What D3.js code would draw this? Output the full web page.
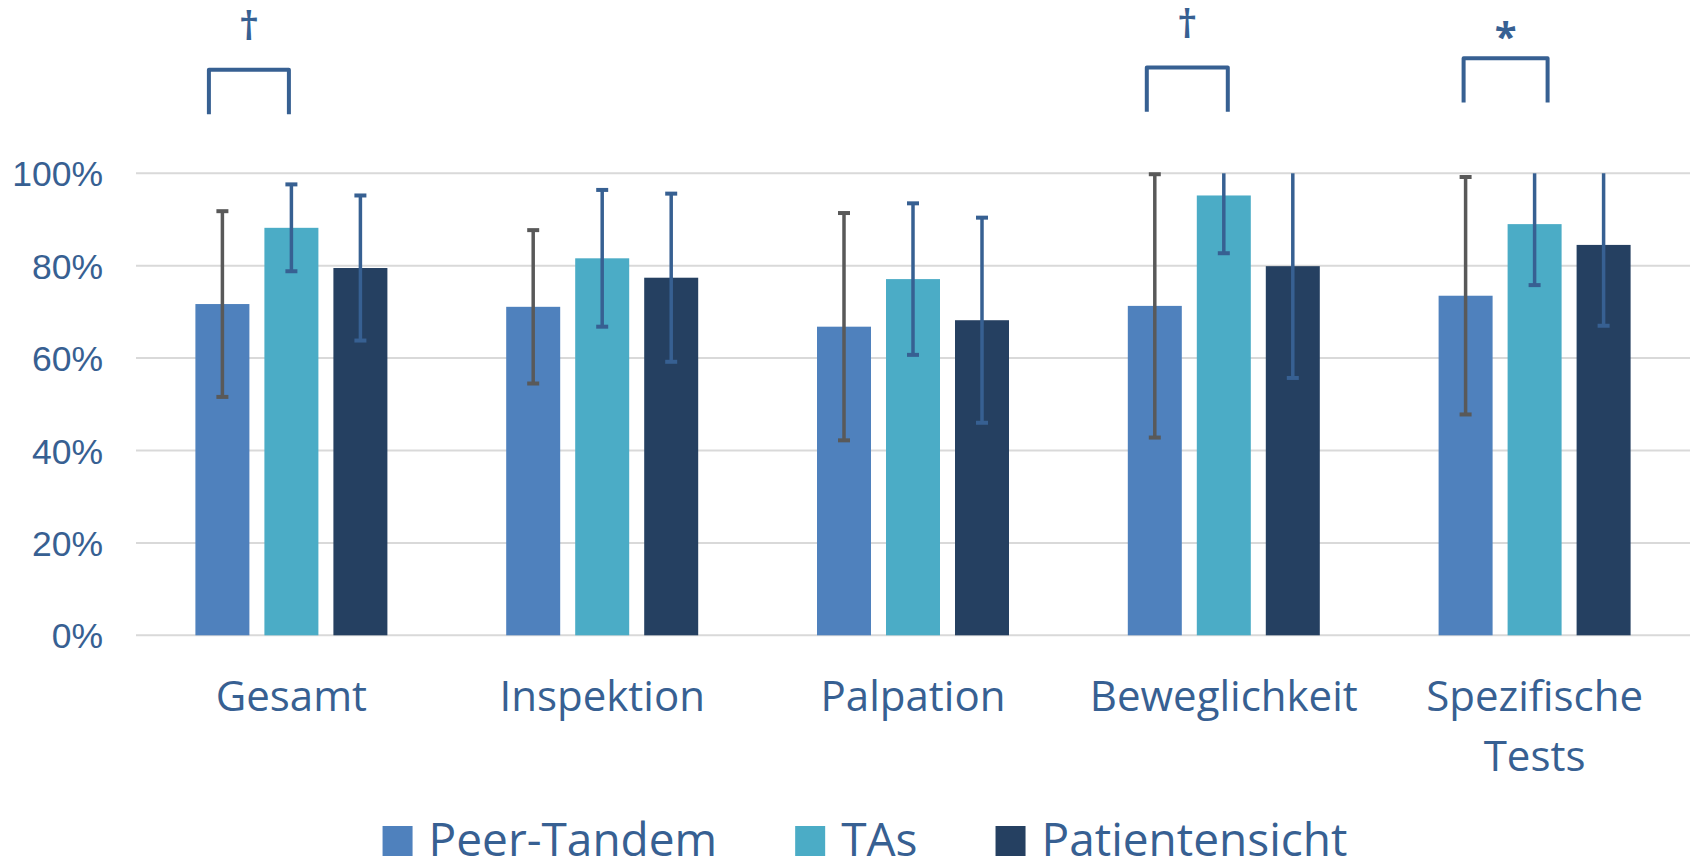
<!DOCTYPE html>
<html>
<head>
<meta charset="utf-8">
<script src="https://cdn.jsdelivr.net/npm/d3@7"></script>
<style>
  html, body { margin: 0; padding: 0; background: #ffffff; }
  svg { display: block; }
</style>
</head>
<body>
<svg id="chart" width="1694" height="862"></svg>
<script>
// ---- DATA ----
const categories = ["Gesamt", "Inspektion", "Palpation", "Beweglichkeit", "Spezifische Tests"];
const seriesNames = ["Peer-Tandem", "TAs", "Patientensicht"];
const peerTandem    = [0.717, 0.711, 0.668, 0.713, 0.735];
const peerTandemErr = [0.201, 0.166, 0.246, 0.285, 0.257];
const tas           = [0.882, 0.816, 0.771, 0.952, 0.890];
const tasErr        = [0.094, 0.148, 0.164, 0.125, 0.132];
const patient       = [0.795, 0.774, 0.682, 0.799, 0.845];
const patientErr    = [0.157, 0.182, 0.222, 0.242, 0.175];
const yTicks = [0, 0.2, 0.4, 0.6, 0.8, 1.0];
// significance brackets: category, label, bracket top / leg bottom (in axis units)
const sigCategories = ["Gesamt", "Beweglichkeit", "Spezifische Tests"];
const sigLabels     = ["\u2020", "\u2020", "*"];
const sigTop        = [1.224, 1.229, 1.249];
const sigBottom     = [1.128, 1.133, 1.153];

// ---- STYLE ----
const colors = ["#4f81bd", "#4bacc6", "#254061"];
const errColors = ["#595959", "#376092", "#376092"];
const textColor = "#376092";
// hand-drawn bracket leg offsets (px) from the bar centres
const sigLeftOffset  = [-13.5, -8, -2];
const sigRightOffset = [-2.5, 4, 13];

const svg = d3.select("#chart");
const plotLeft = 136, plotRight = 1690, plotTop = 173.3, plotBottom = 635.3;

const values = [peerTandem, tas, patient];
const errs = [peerTandemErr, tasErr, patientErr];

const x0 = d3.scaleBand().domain(categories).range([plotLeft, plotRight]).paddingInner(0).paddingOuter(0);
const bw = x0.bandwidth();
const x1 = d3.scaleBand().domain(seriesNames)
  .range([bw / 2 - 96, bw / 2 + 96]).paddingInner(15 / 69).paddingOuter(0);
const y = d3.scaleLinear().domain([0, 1]).range([plotBottom, plotTop]);

// gridlines
svg.append("g").selectAll("line").data(yTicks).join("line")
  .attr("x1", plotLeft).attr("x2", plotRight)
  .attr("y1", d => y(d)).attr("y2", d => y(d))
  .attr("stroke", "#d9d9d9").attr("stroke-width", 2);

// y axis labels
const yAxis = d3.axisLeft(y).tickValues(yTicks).tickFormat(d3.format(".0%")).tickSize(0).tickPadding(0);
const gy = svg.append("g").attr("transform", `translate(103,0)`).call(yAxis);
gy.select(".domain").remove();
gy.selectAll("text")
  .attr("font-family", "'Liberation Sans', Arial, sans-serif")
  .attr("font-size", 35.5).attr("fill", textColor).attr("dy", "0.357em");

// bars
const rows = [];
categories.forEach((c, i) => {
  seriesNames.forEach((s, j) => {
    rows.push({ cat: c, ser: s, j, v: values[j][i], e: errs[j][i] });
  });
});

svg.append("g").selectAll("rect").data(rows).join("rect")
  .attr("x", d => x0(d.cat) + x1(d.ser))
  .attr("y", d => y(d.v))
  .attr("width", x1.bandwidth())
  .attr("height", d => y(0) - y(d.v))
  .attr("fill", d => colors[d.j]);

// error bars (clipped at axis max like the original)
const capW = 12;
const eg = svg.append("g");
rows.forEach(d => {
  const cx = x0(d.cat) + x1(d.ser) + x1.bandwidth() / 2;
  const hiRaw = d.v + d.e;
  const hi = Math.min(hiRaw, 1);
  const lo = d.v - d.e;
  const col = errColors[d.j];
  eg.append("line").attr("x1", cx).attr("x2", cx)
    .attr("y1", y(hi)).attr("y2", y(lo))
    .attr("stroke", col).attr("stroke-width", 3.5);
  if (hiRaw <= 1.0001) {
    eg.append("line").attr("x1", cx - capW / 2).attr("x2", cx + capW / 2)
      .attr("y1", y(hi)).attr("y2", y(hi))
      .attr("stroke", col).attr("stroke-width", 4);
  }
  eg.append("line").attr("x1", cx - capW / 2).attr("x2", cx + capW / 2)
    .attr("y1", y(lo)).attr("y2", y(lo))
    .attr("stroke", col).attr("stroke-width", 4);
});

// category labels with wrapping
const catFont = "'Open Sans', 'Noto Sans', sans-serif";
const gx = svg.append("g");
categories.forEach(c => {
  const cx = x0(c) + bw / 2;
  const t = gx.append("text").attr("x", cx).attr("y", 711)
    .attr("text-anchor", "middle").attr("font-family", catFont)
    .attr("font-size", 42).attr("fill", textColor);
  const words = c.split(" ");
  let line = [];
  let lineNo = 0;
  let ts = t.append("tspan").attr("x", cx).attr("y", 711);
  words.forEach(w => {
    line.push(w);
    ts.text(line.join(" "));
    if (ts.node().getComputedTextLength() > bw - 20 && line.length > 1) {
      line.pop();
      ts.text(line.join(" "));
      line = [w];
      lineNo++;
      ts = t.append("tspan").attr("x", cx).attr("y", 711 + lineNo * 60).text(w);
    }
  });
});

// significance brackets
const sg = svg.append("g");
sigCategories.forEach((c, k) => {
  const xl = x0(c) + x1(seriesNames[0]) + x1.bandwidth() / 2 + sigLeftOffset[k];
  const xr = x0(c) + x1(seriesNames[1]) + x1.bandwidth() / 2 + sigRightOffset[k];
  const yt = y(sigTop[k]), yb = y(sigBottom[k]);
  sg.append("path")
    .attr("d", `M${xl},${yb} L${xl},${yt} L${xr},${yt} L${xr},${yb}`)
    .attr("fill", "none").attr("stroke", textColor).attr("stroke-width", 4)
    .attr("stroke-linejoin", "round");
  const isStar = sigLabels[k] === "*";
  sg.append("text").attr("x", (xl + xr) / 2)
    .attr("y", isStar ? yt - 7 : yt - 30)
    .attr("text-anchor", "middle")
    .attr("font-family", catFont)
    .attr("font-size", isStar ? 40 : 40)
    .attr("font-weight", isStar ? "bold" : "600")
    .attr("fill", textColor)
    .text(sigLabels[k]);
});

// legend
const lg = svg.append("g");
const legFontSize = 46, sq = 30, gapSqText = 16, gapItems = 78;
const items = [];
let cursor = 0;
seriesNames.forEach((s, j) => {
  const t = lg.append("text").attr("font-family", catFont).attr("font-size", legFontSize)
    .attr("fill", textColor).text(s);
  const w = t.node().getComputedTextLength();
  items.push({ t, j, start: cursor, w });
  cursor += sq + gapSqText + w + (j < seriesNames.length - 1 ? gapItems : 0);
});
const legStart = 865 - cursor / 2;
items.forEach(it => {
  lg.append("rect").attr("x", legStart + it.start).attr("y", 826)
    .attr("width", sq).attr("height", sq).attr("fill", colors[it.j]);
  it.t.attr("x", legStart + it.start + sq + gapSqText).attr("y", 856);
});
</script>
</body>
</html>
